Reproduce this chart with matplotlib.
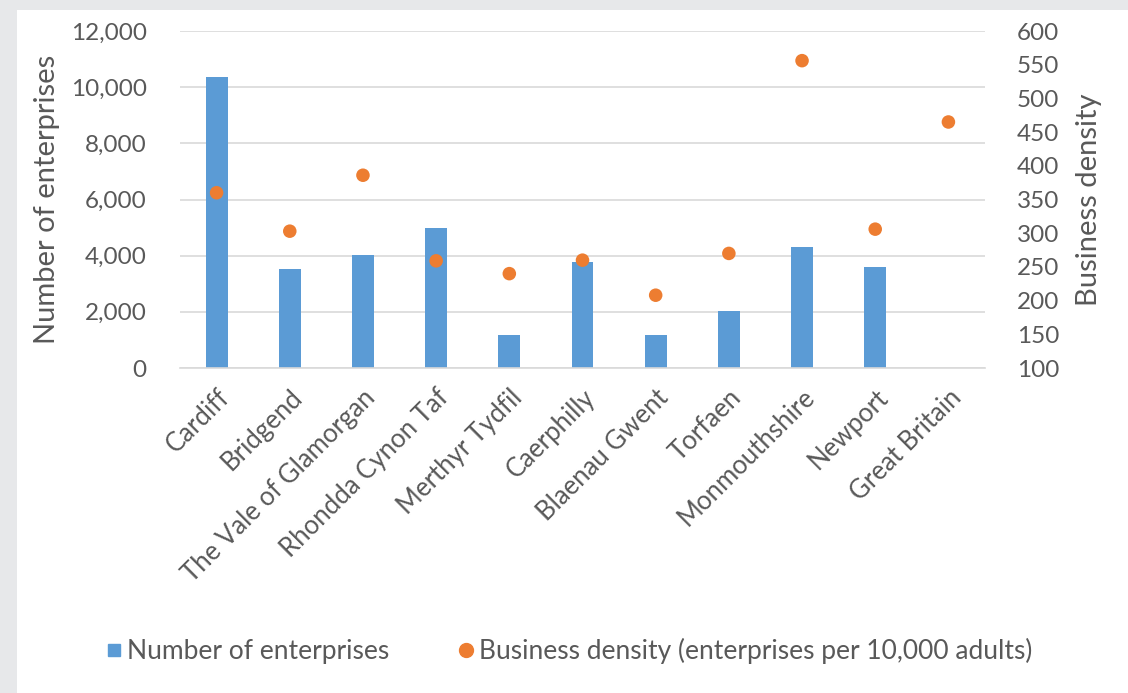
import matplotlib
matplotlib.use("Agg")
import matplotlib.pyplot as plt
from matplotlib.patches import Rectangle
from matplotlib.lines import Line2D
import numpy as np

categories = ["Cardiff", "Bridgend", "The Vale of Glamorgan", "Rhondda Cynon Taf",
              "Merthyr Tydfil", "Caerphilly", "Blaenau Gwent", "Torfaen",
              "Monmouthshire", "Newport", "Great Britain"]
enterprises = [10370, 3510, 4010, 4970, 1160, 3760, 1160, 2030, 4300, 3600, np.nan]
density = [360, 303, 386, 259, 240, 260, 208, 270, 556, 306, 465]

blue = "#5b9bd5"
orange = "#ed7d31"
txt = "#595959"
grid = "#d9d9d9"

plt.rcParams['font.family'] = ['Lato', 'DejaVu Sans']

fig = plt.figure(figsize=(11.28, 6.93), dpi=100, facecolor="#e7e8ea")
fig.patches.append(Rectangle((17/1128, 0), 1, 1 - 10/693, transform=fig.transFigure,
                             facecolor="white", edgecolor="none", zorder=-10))

ax = fig.add_axes([180/1128, 1 - 368/693, 805/1128, 337/693])
ax.set_facecolor("none")
x = np.arange(len(categories))
ax.bar(x, enterprises, width=0.3, color=blue, zorder=2)
ax.set_xlim(-0.5, len(categories) - 0.5)
ax.set_ylim(0, 12000)
ax.set_yticks(np.arange(0, 12001, 2000))
ax.set_yticklabels([f"{v:,}" for v in range(0, 12001, 2000)])
ax.grid(axis="y", color=grid, linewidth=1.2, zorder=0)
for s in ["top", "right", "left"]:
    ax.spines[s].set_visible(False)
ax.spines["bottom"].set_color(grid)
ax.spines["bottom"].set_linewidth(1.2)
ax.tick_params(axis="y", length=0, colors=txt, labelsize=17.5, pad=24)
ax.set_xticks(x)
ax.set_xticklabels(categories, rotation=45, ha="right", rotation_mode="anchor")
ax.tick_params(axis="x", length=0, colors=txt, labelsize=18.5, pad=12)
ax.set_ylabel("Number of enterprises", color=txt, fontsize=21, labelpad=8)

ax2 = ax.twinx()
ax2.scatter(x, density, s=95, color=orange, zorder=3, edgecolors="none")
ax2.set_ylim(100, 600)
ax2.set_yticks(np.arange(100, 601, 50))
for s in ["top", "right", "left", "bottom"]:
    ax2.spines[s].set_visible(False)
ax2.tick_params(axis="y", length=0, colors=txt, labelsize=17.5, pad=23)
ax2.set_ylabel("Business density", color=txt, fontsize=21, labelpad=12)

handles = [
    Line2D([], [], marker="s", linestyle="none", color=blue, markersize=9),
    Line2D([], [], marker="o", linestyle="none", color=orange, markersize=10),
]
labels = ["Number of enterprises", "Business density (enterprises per 10,000 adults)"]
fig.legend(handles, labels, loc="center", bbox_to_anchor=(568/1128, 1 - 651/693),
           ncol=2, frameon=False, fontsize=19, labelcolor=txt,
           handletextpad=0.1, columnspacing=2.5, handlelength=0.8)

fig.savefig("out.png", dpi=100, facecolor=fig.get_facecolor())
